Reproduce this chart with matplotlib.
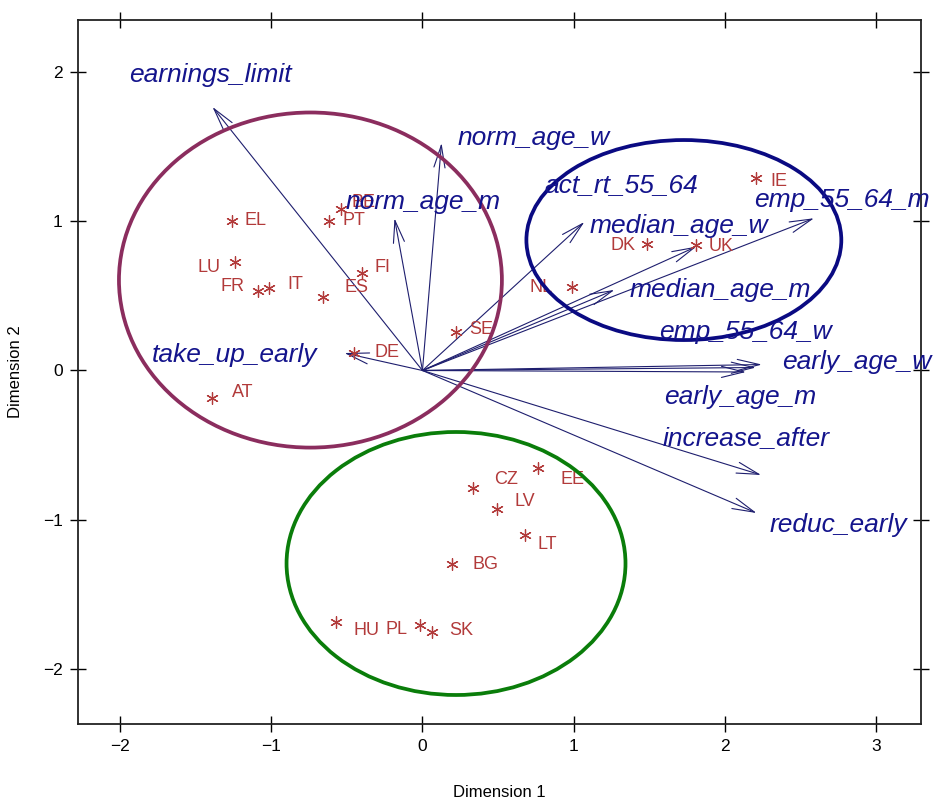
#!/usr/bin/env python3

import matplotlib
matplotlib.use('Agg')
import matplotlib.pyplot as plt
from matplotlib.patches import Ellipse, FancyArrowPatch


# -------------------- #
# -- DATA             #
# -------------------- #

countries = ['EL', 'PT', 'BE', 'LU', 'FR', 'IT', 'ES', 'FI', 'DE', 'AT', 'SE',
             'NL', 'DK', 'UK', 'IE', 'CZ', 'EE', 'LV', 'LT', 'BG', 'HU', 'PL', 'SK']
country_x = [-1.263, -0.615, -0.542, -1.237, -1.085, -1.018, -0.661, -0.403, -0.450,
             -1.389, 0.225, 0.992, 1.488, 1.812, 2.209, 0.337, 0.767, 0.496, 0.681,
             0.198, -0.575, -0.013, 0.060]
country_y = [1.002, 1.002, 1.082, 0.730, 0.533, 0.553, 0.492, 0.653, 0.117,
             -0.184, 0.258, 0.559, 0.848, 0.841, 1.290, -0.787, -0.653, -0.928, -1.102,
             -1.297, -1.685, -1.705, -1.752]

variables = ['earnings_limit', 'norm_age_w', 'norm_age_m', 'act_rt_55_64',
             'median_age_w', 'emp_55_64_m', 'median_age_m', 'emp_55_64_w',
             'early_age_w', 'early_age_m', 'increase_after', 'reduc_early',
             'take_up_early']
var_x = [-1.389, 0.126, -0.185, 1.071, 1.812, 2.590, 1.270, 2.245, 2.205, 2.140,
         2.240, 2.210, -0.516]
var_y = [1.766, 1.524, 1.020, 0.995, 0.830, 1.020, 0.540, 0.040, 0.020, -0.010,
         -0.700, -0.955, 0.117]

# cluster outlines: centre x, centre y, width, height
clusters = {
    'west':  (-0.741, 0.606, 2.533, 2.245),
    'north': (1.729, 0.874, 2.083, 1.340),
    'east':  (0.222, -1.293, 2.242, 1.762),
}

x_ticks = [-2, -1, 0, 1, 2, 3]
y_ticks = [-2, -1, 0, 1, 2]


# -------------------- #
# -- LAYOUT / STYLE   #
# -------------------- #

COUNTRY_COL = '#B23A3A'
VAR_COL     = '#14148C'
ARROW_COL   = '#1E1E6E'
CLUSTER_COL = {'west': '#8B2D5E', 'north': '#0A0A82', 'east': '#0A7D0A'}

# label offsets (pixels) and alignment for country names
country_off = {
    'EL': (13, 0, 'left'),  'PT': (13, 0, 'left'),   'BE': (11, 6, 'left'),
    'LU': (-15, -6, 'right'), 'FR': (-14, 4, 'right'), 'IT': (19, 3, 'left'),
    'ES': (22, 10, 'left'), 'FI': (13, 6, 'left'),   'DE': (20, 1, 'left'),
    'AT': (20, 5, 'left'),  'SE': (13, 2, 'left'),   'NL': (-20, 0, 'right'),
    'DK': (-12, -2, 'right'), 'UK': (12, -2, 'left'), 'IE': (14, -4, 'left'),
    'CZ': (21, 8, 'left'),  'EE': (22, -12, 'left'), 'LV': (17, 8, 'left'),
    'LT': (12, -10, 'left'), 'BG': (20, 0, 'left'),  'HU': (18, -8, 'left'),
    'PL': (-13, -5, 'right'), 'SK': (18, 2, 'left'),
}

# variable label anchor (left edge, vertical centre) in data units
var_label_pos = {
    'earnings_limit': (-1.938, 1.98),
    'norm_age_w':     (0.231, 1.558),
    'norm_age_m':     (-0.509, 1.129),
    'act_rt_55_64':   (0.807, 1.243),
    'median_age_w':   (1.104, 0.965),
    'emp_55_64_m':    (2.196, 1.142),
    'median_age_m':   (1.369, 0.539),
    'emp_55_64_w':    (1.567, 0.258),
    'early_age_w':    (2.381, 0.057),
    'early_age_m':    (1.600, -0.178),
    'increase_after': (1.587, -0.452),
    'reduc_early':    (2.295, -1.035),
    'take_up_early':  (-1.792, 0.104),
}

plt.rcParams['font.family'] = ['Liberation Sans', 'DejaVu Sans']

fig = plt.figure(figsize=(9.52, 8.01), dpi=100)
ax = fig.add_axes([0.082, 0.096, 0.8855, 0.879])

ax.set_xlim(-2.278, 3.298)
ax.set_ylim(-2.369, 2.348)


# ellipses
for key, (cx, cy, w, h) in clusters.items():
    ax.add_patch(Ellipse(
        (cx, cy), w, h,
        fill      = False,
        edgecolor = CLUSTER_COL[key],
        linewidth = 2.7,
        zorder    = 4,
    ))


# arrows
for name, vx, vy in zip(variables, var_x, var_y):
    ax.add_patch(FancyArrowPatch(
        (0, 0), (vx, vy),
        arrowstyle     = '->,head_length=0.8,head_width=0.2',
        mutation_scale = 20,
        color          = ARROW_COL,
        linewidth      = 0.8,
        shrinkA        = 0,
        shrinkB        = 0,
        zorder         = 2,
    ))
    lx, ly = var_label_pos[name]
    ax.text(
        lx, ly, name,
        color      = VAR_COL,
        fontsize   = 19,
        fontstyle  = 'italic',
        ha         = 'left',
        va         = 'center',
        zorder     = 5,
    )


# countries
ax.scatter(
    country_x, country_y,
    marker     = (6, 2, 0),
    s          = 70,
    color      = COUNTRY_COL,
    linewidths = 0.9,
    zorder     = 3,
)

for name, cx, cy in zip(countries, country_x, country_y):
    dx, dy, ha = country_off[name]
    ax.annotate(
        name, (cx, cy),
        xytext     = (dx, dy),
        textcoords = 'offset pixels',
        color      = COUNTRY_COL,
        fontsize   = 13,
        ha         = ha,
        va         = 'center',
        zorder     = 3,
    )


# axes
ax.set_xticks(x_ticks)
ax.set_yticks(y_ticks)
ax.tick_params(
    direction = 'inout',
    length    = 12,
    width     = 1.0,
    labelsize = 12.5,
    top       = True,
    right     = True,
    pad       = 5,
)
for sp in ax.spines.values():
    sp.set_linewidth(1.3)
    sp.set_color('#222222')

ax.set_xlabel('Dimension 1', fontsize = 12, labelpad = 22)
ax.set_ylabel('Dimension 2', fontsize = 12, labelpad = 14)

plt.savefig('out.png', dpi = 100, facecolor = 'white')
plt.close()
